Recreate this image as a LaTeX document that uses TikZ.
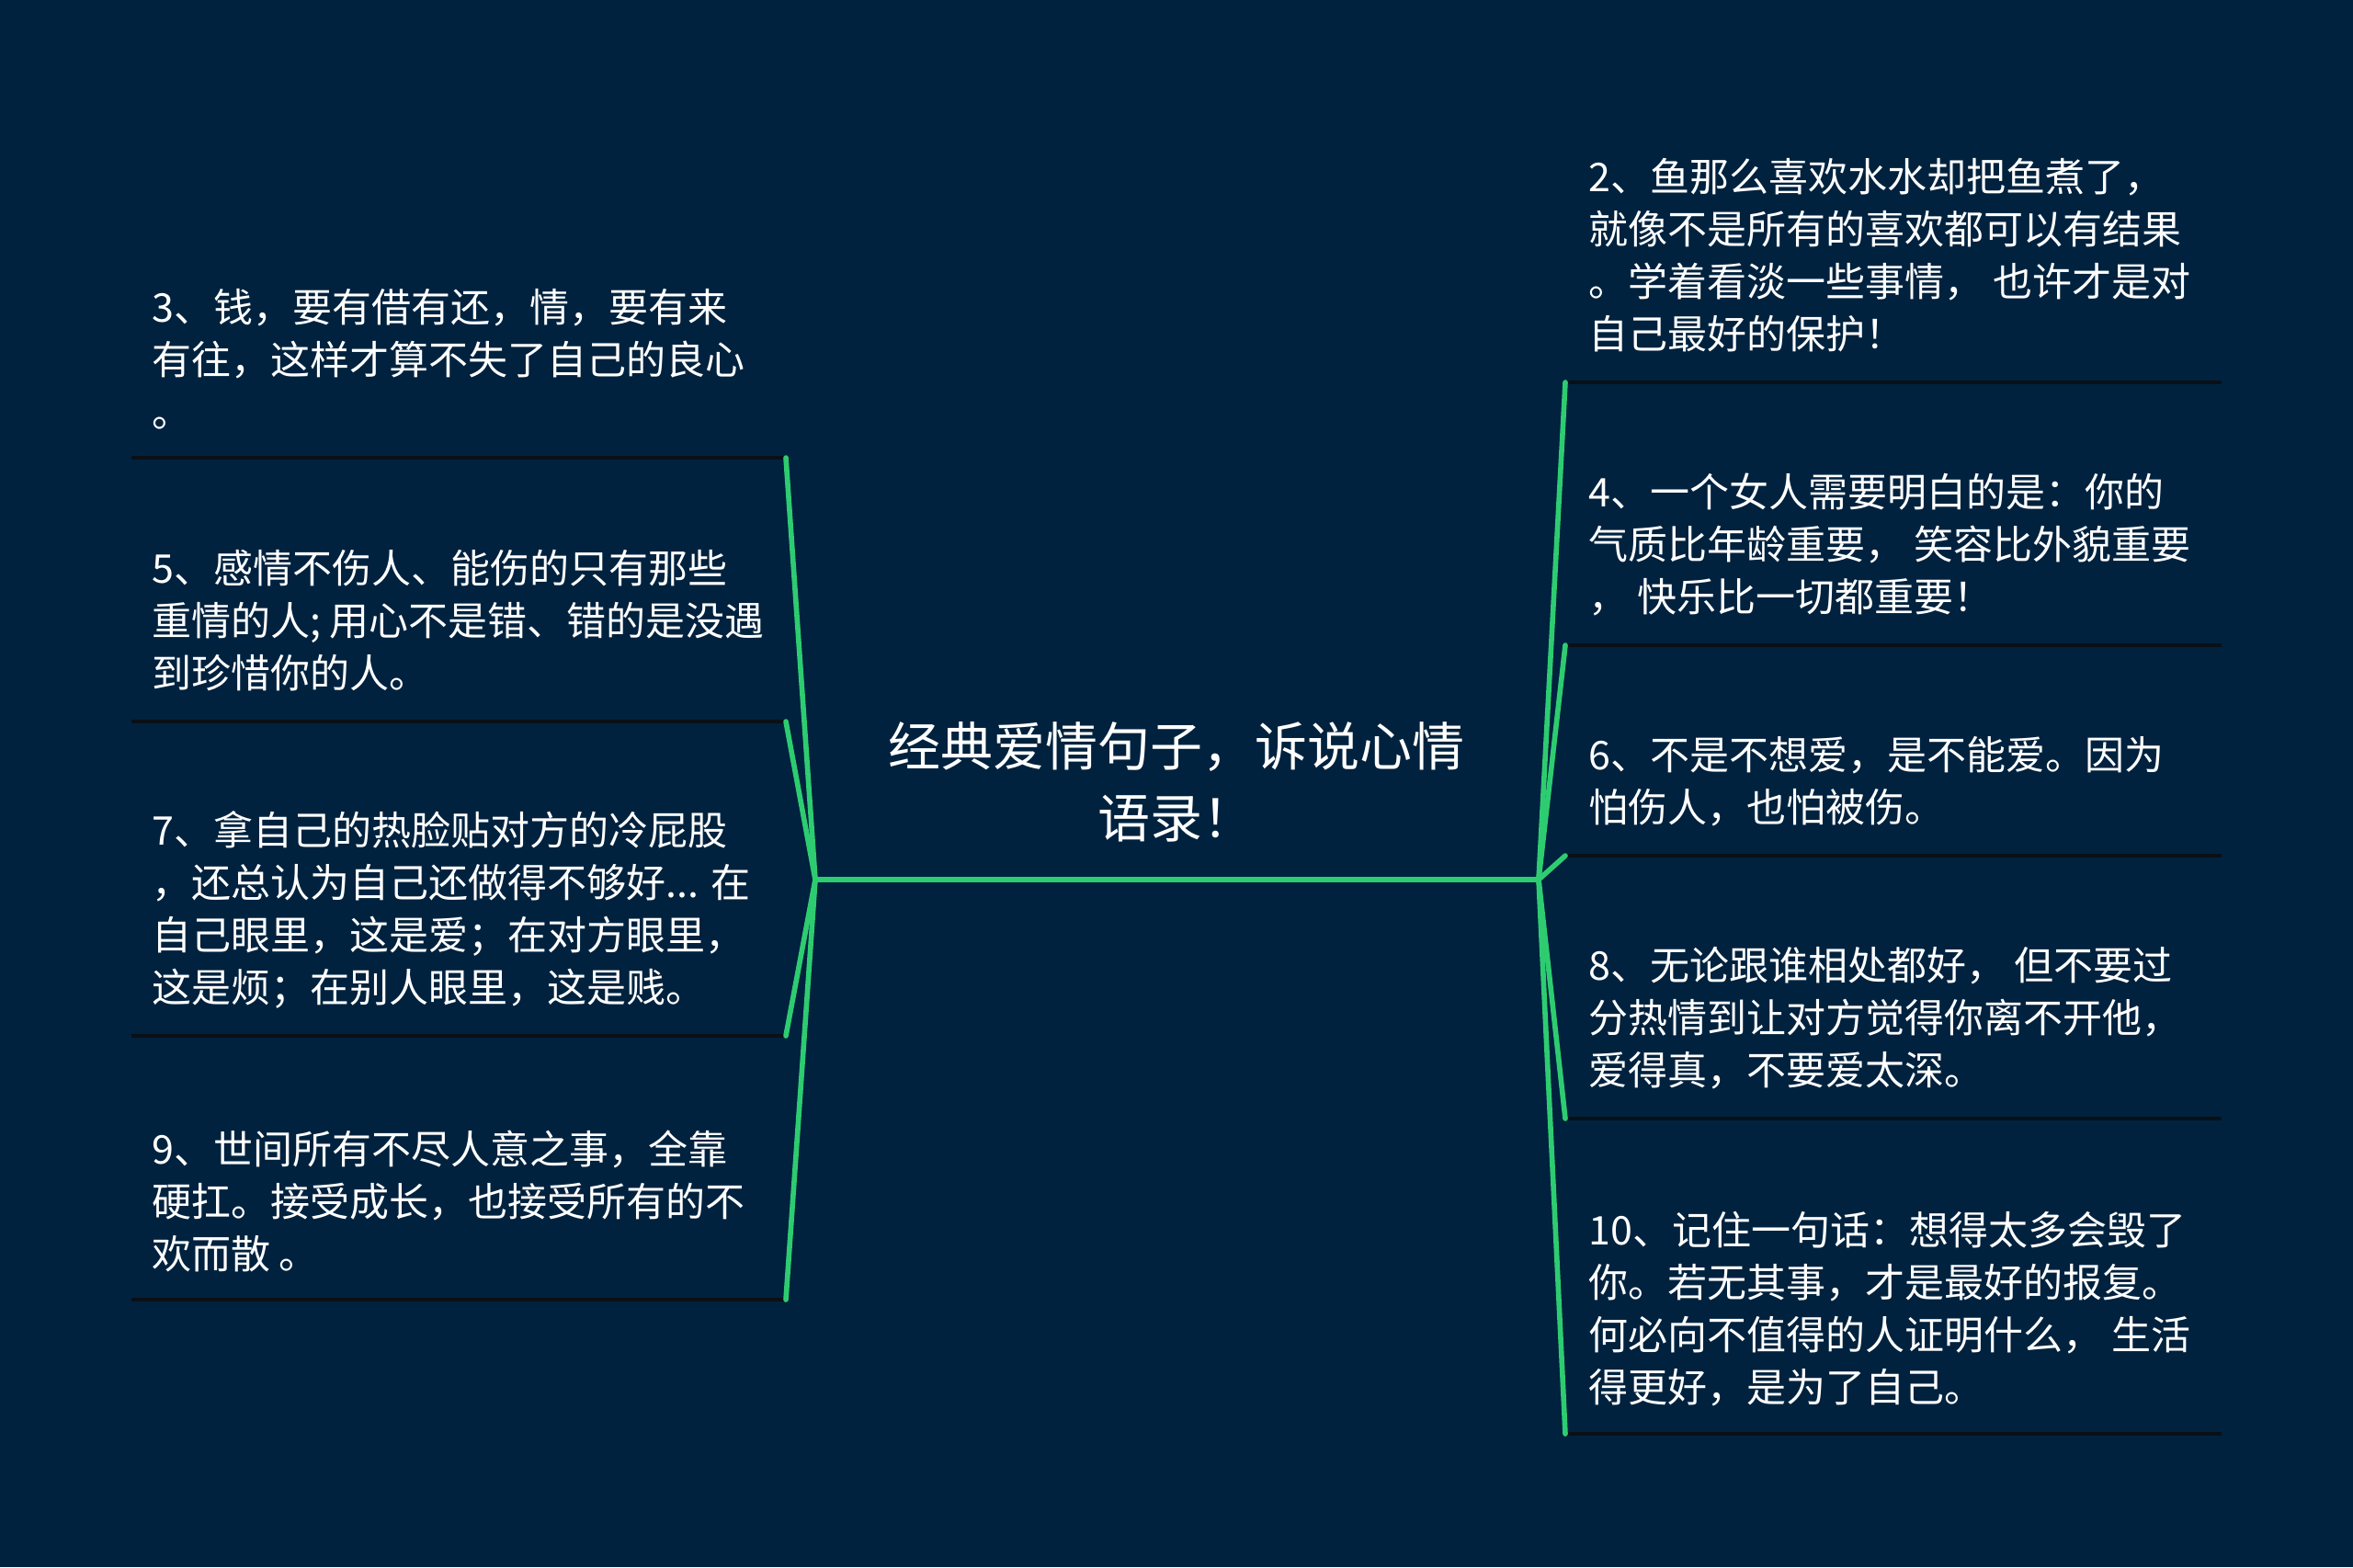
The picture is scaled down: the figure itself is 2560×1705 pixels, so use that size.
\documentclass[tikz,border=0pt]{standalone}
\usepackage{fontspec}
\setmainfont{Noto Sans CJK SC}
\definecolor{bg}{RGB}{0,34,62}
\definecolor{branch}{RGB}{46,204,113}
\definecolor{uline}{RGB}{10,16,22}
\begin{document}
\begin{tikzpicture}[x=0.5pt,y=-0.5pt,
  txt/.style={text=white, font=\fontsize{21.5}{28.5}\selectfont, align=left, inner sep=0pt, anchor=north west},
  ttl/.style={text=white, font=\fontsize{28.5}{39}\selectfont, align=center, inner sep=0pt, anchor=north},
  link/.style={draw=branch, line width=2.8pt, line cap=round},
  under/.style={draw=uline, line width=2pt}]
\useasboundingbox (0,0) rectangle (2560,1705);
\fill[bg] (0,0) rectangle (2560,1705);

% junctions
\coordinate (jl) at (887,957);
\coordinate (jr) at (1674,957);

% title
\node[ttl] (title) at (1280,778) {\strut 经典爱情句子，诉说心情\\\strut 语录！};

% left nodes
\node[txt] (n3) at (165,310) {\strut 3、钱，要有借有还，情，要有来\\\strut 有往，这样才算不失了自己的良心\\\strut 。};
\node[txt] (n5) at (165,594) {\strut 5、感情不伤人、能伤的只有那些\\\strut 重情的人; 用心不是错、错的是没遇\\\strut 到珍惜你的人。};
\node[txt] (n7) at (165,879) {\strut 7、拿自己的热脸贴对方的冷屁股\\\strut ，还总认为自己还做得不够好... 在\\\strut 自己眼里，这是爱；在对方眼里，\\\strut 这是烦；在别人眼里，这是贱。};
\node[txt] (n9) at (165,1226) {\strut 9、世间所有不尽人意之事，全靠\\\strut 硬扛。接受成长，也接受所有的不\\\strut 欢而散 。};

% right nodes
\node[txt] (n2) at (1728,168) {\strut 2、鱼那么喜欢水水却把鱼煮了，\\\strut 就像不是所有的喜欢都可以有结果\\\strut 。学着看淡一些事情， 也许才是对\\\strut 自己最好的保护！};
\node[txt] (n4) at (1728,511) {\strut 4、一个女人需要明白的是：你的\\\strut 气质比年龄重要， 笑容比外貌重要\\\strut ， 快乐比一切都重要！};
\node[txt] (n6) at (1728,797) {\strut 6、不是不想爱，是不能爱。因为\\\strut 怕伤人，也怕被伤。};
\node[txt] (n8) at (1728,1026) {\strut 8、无论跟谁相处都好， 但不要过\\\strut 分热情到让对方觉得你离不开他，\\\strut 爱得真，不要爱太深。};
\node[txt] (n10) at (1728,1314) {\strut 10、记住一句话：想得太多会毁了\\\strut 你。若无其事，才是最好的报复。\\\strut 何必向不值得的人证明什么， 生活\\\strut 得更好，是为了自己。};

% underline end points
\coordinate (u3l) at (143,498);  \coordinate (u3r) at (855,498);
\coordinate (u5l) at (143,785);  \coordinate (u5r) at (855,785);
\coordinate (u7l) at (143,1127); \coordinate (u7r) at (855,1127);
\coordinate (u9l) at (143,1414); \coordinate (u9r) at (855,1414);
\coordinate (u2l) at (1703,416);  \coordinate (u2r) at (2417,416);
\coordinate (u4l) at (1703,702);  \coordinate (u4r) at (2417,702);
\coordinate (u6l) at (1703,931);  \coordinate (u6r) at (2417,931);
\coordinate (u8l) at (1703,1217); \coordinate (u8r) at (2417,1217);
\coordinate (u10l) at (1703,1560); \coordinate (u10r) at (2417,1560);

% underlines
\foreach \k in {3,5,7,9,2,4,6,8,10} {
  \draw[under] (u\k l) -- (u\k r);
}

% connectors
\draw[link] (jl) -- (jr);
\foreach \k in {3,5,7,9} {
  \draw[link] (jl) -- (u\k r);
}
\foreach \k in {2,4,6,8,10} {
  \draw[link] (jr) -- (u\k l);
}
\end{tikzpicture}
\end{document}
